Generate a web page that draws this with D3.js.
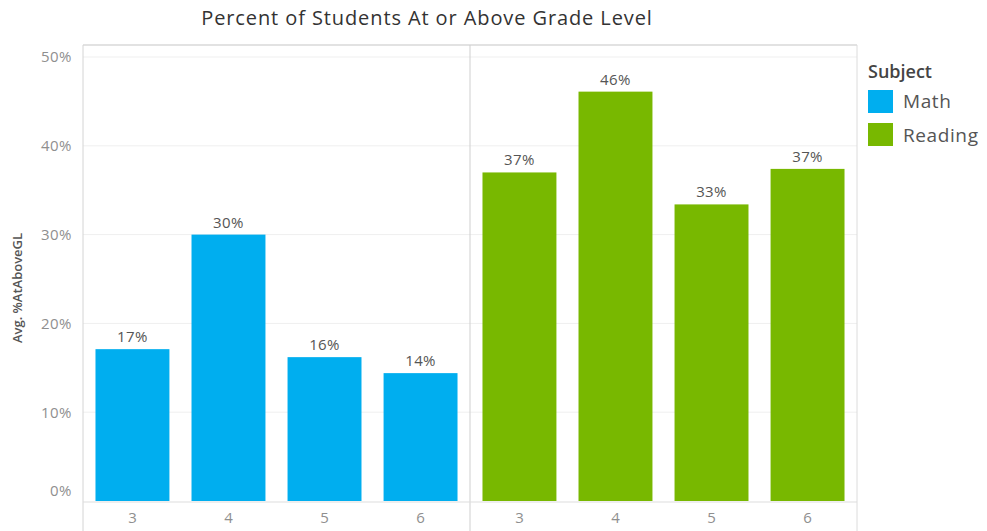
<!DOCTYPE html>
<html>
<head>
<meta charset="utf-8">
<script src="https://cdn.jsdelivr.net/npm/d3@7"></script>
<style>
  body { margin: 0; background: #fff; }
  text { font-family: "Open Sans", "Noto Sans", sans-serif; }
</style>
</head>
<body>
<div id="chart"></div>
<script>
// data
var subjects = ["Math", "Reading"];
var grades = ["3", "4", "5", "6"];
var mathValues = [17.1, 30.0, 16.2, 14.4];
var readingValues = [37.0, 46.1, 33.4, 37.4];
var yTicks = [0, 10, 20, 30, 40, 50];
var colors = ["#00aeef", "#78b800"];

var width = 987, height = 531;
var plotLeft = 83, plotRight = 857, plotTop = 45, base = 501;

var svg = d3.select("#chart").append("svg")
    .attr("width", width)
    .attr("height", height);

var y = d3.scaleLinear().domain([0, 50]).range([base, 57]);

var pane = d3.scaleBand().domain(subjects).range([plotLeft, plotRight]);
var x = d3.scaleBand().domain(grades).range([0, pane.bandwidth()])
    .paddingInner(0.23).paddingOuter(0.13);

// title
svg.append("text")
    .attr("x", 427).attr("y", 25)
    .attr("text-anchor", "middle")
    .attr("font-size", 20)
    .attr("font-weight", 500)
    .attr("letter-spacing", 0.9)
    .attr("fill", "#333")
    .text("Percent of Students At or Above Grade Level");

// gridlines
svg.append("g").selectAll("line")
  .data(yTicks.slice(1))
  .enter().append("line")
    .attr("x1", plotLeft).attr("x2", plotRight)
    .attr("y1", function(d) { return y(d); })
    .attr("y2", function(d) { return y(d); })
    .attr("stroke", "#efefef");

// frame
svg.append("line").attr("x1", plotLeft).attr("x2", plotRight).attr("y1", plotTop).attr("y2", plotTop)
    .attr("stroke", "#d9d9d9").attr("stroke-width", 1.5);
svg.append("line").attr("x1", plotRight).attr("x2", plotRight).attr("y1", plotTop).attr("y2", height)
    .attr("stroke", "#dcdcdc");
svg.append("line").attr("x1", plotLeft).attr("x2", plotLeft).attr("y1", plotTop).attr("y2", height)
    .attr("stroke", "#d4d4d4");
svg.append("line").attr("x1", pane("Reading")).attr("x2", pane("Reading"))
    .attr("y1", plotTop).attr("y2", height)
    .attr("stroke", "#cfcfcf");

// y axis
var yAxis = d3.axisLeft(y).tickValues(yTicks).tickSize(0).tickPadding(11)
    .tickFormat(function(d) { return d + "%"; });
var gy = svg.append("g").attr("transform", "translate(" + plotLeft + ",0)").call(yAxis);
gy.select(".domain").remove();
gy.selectAll("text").attr("font-size", 15).attr("fill", "#8f8f8f")
    .attr("letter-spacing", 0.5)
    .attr("font-family", "Open Sans, sans-serif")
    .attr("dy", function(d) { return d === 0 ? "-0.4em" : "0.32em"; });

svg.append("text")
    .attr("transform", "translate(22,288) rotate(-90)")
    .attr("text-anchor", "middle")
    .attr("font-size", 13)
    .attr("font-weight", 600)
    .attr("fill", "#555")
    .text("Avg. %AtAboveGL");

// bars per pane
var series = [mathValues, readingValues];
subjects.forEach(function(s, i) {
  var g = svg.append("g").attr("transform", "translate(" + pane(s) + ",0)");
  var rows = grades.map(function(gr, j) { return { grade: gr, value: series[i][j] }; });

  g.selectAll("rect").data(rows).enter().append("rect")
      .attr("x", function(d) { return x(d.grade); })
      .attr("width", x.bandwidth())
      .attr("y", function(d) { return y(d.value); })
      .attr("height", function(d) { return base - y(d.value); })
      .attr("fill", colors[i]);

  g.selectAll("text.lbl").data(rows).enter().append("text")
      .attr("class", "lbl")
      .attr("x", function(d) { return x(d.grade) + x.bandwidth() / 2; })
      .attr("y", function(d) { return y(d.value) - 7; })
      .attr("text-anchor", "middle")
      .attr("font-size", 15)
      .attr("letter-spacing", 0.4)
      .attr("fill", "#555")
      .text(function(d) { return Math.round(d.value) + "%"; });

  var xAxis = d3.axisBottom(x).tickSize(0).tickPadding(9);
  var gx = g.append("g").attr("transform", "translate(0," + (base + 2) + ")").call(xAxis);
  gx.select(".domain").remove();
  gx.selectAll("text").attr("font-size", 15).attr("fill", "#8f8f8f")
      .attr("font-family", "Open Sans, sans-serif");
});

// baseline
svg.append("line").attr("x1", plotLeft).attr("x2", plotRight).attr("y1", base + 1).attr("y2", base + 1)
    .attr("stroke", "#ddd");

// legend
var lg = svg.append("g").attr("transform", "translate(868,0)");
lg.append("text").attr("x", 0).attr("y", 78)
    .attr("font-size", 18).attr("font-weight", 600).attr("fill", "#444").text("Subject");
subjects.forEach(function(s, i) {
  lg.append("rect").attr("x", 0).attr("y", 90 + i * 33).attr("width", 25).attr("height", 23)
      .attr("fill", colors[i]);
  lg.append("text").attr("x", 35).attr("y", 108 + i * 34)
      .attr("font-size", 19).attr("letter-spacing", 0.6).attr("fill", "#555").text(s);
});
</script>
</body>
</html>
